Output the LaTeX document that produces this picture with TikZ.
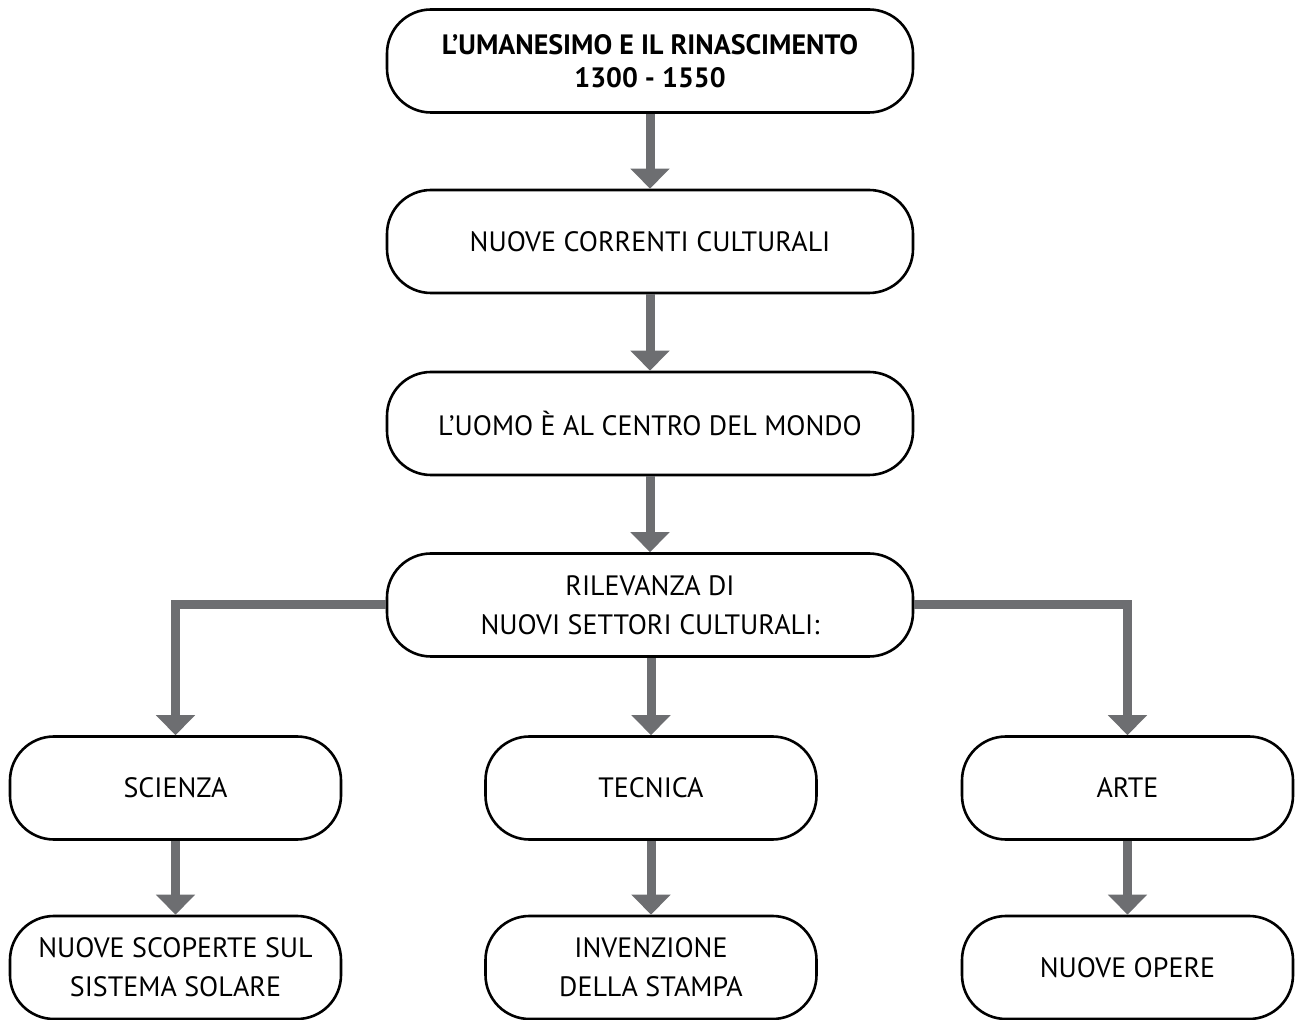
\documentclass[tikz,border=0pt]{standalone}
\usepackage{fontspec}
\setmainfont{PT Sans}
\usetikzlibrary{positioning,arrows.meta}
\definecolor{arrowgray}{HTML}{6D6E71}

\begin{document}
\begin{tikzpicture}[x=0.5pt, y=-0.5pt,
  box/.style={draw, line width=1.3pt, rounded corners=22pt, align=center,
              font=\fontsize{14}{19.5}\selectfont, inner sep=0pt,
              minimum width=263pt, minimum height=51.5pt},
  sbox/.style={box, minimum width=165.5pt},
  arr/.style={-{Triangle[width=19pt,length=10pt]}, line width=4.5pt, arrowgray}]
\useasboundingbox (0,0) rectangle (1296,1020);
% main column
\node[box, font=\bfseries\fontsize{14}{16.5}\selectfont] (title) at (650,61)
  {L’UMANESIMO E IL RINASCIMENTO\\1300 - 1550};
\node[box] (corr) at (650,241.5) {NUOVE CORRENTI CULTURALI};
\node[box] (uomo) at (650,423.5) {L’UOMO È AL CENTRO DEL MONDO};
\node[box] (ril) at (650,605) {RILEVANZA DI\\NUOVI SETTORI CULTURALI:};
% sectors
\node[sbox] (sci) at (175.5,788) {SCIENZA};
\node[sbox] (tec) at (651,788) {TECNICA};
\node[sbox] (arte) at (1127.5,788) {ARTE};
\node[sbox] (scop) at (175.5,967.5) {NUOVE SCOPERTE SUL\\SISTEMA SOLARE};
\node[sbox] (stam) at (651,967.5) {INVENZIONE\\DELLA STAMPA};
\node[sbox] (oper) at (1127.5,967.5) {NUOVE OPERE};
\draw[arr] (title) -- (corr);
\draw[arr] (corr) -- (uomo);
\draw[arr] (uomo) -- (ril);
\draw[arr] (ril.west) -| (sci.north);
\draw[arr] (ril.south -| tec.north) -- (tec.north);
\draw[arr] (ril.east) -| (arte.north);
\draw[arr] (sci) -- (scop);
\draw[arr] (tec) -- (stam);
\draw[arr] (arte) -- (oper);
\end{tikzpicture}
\end{document}
